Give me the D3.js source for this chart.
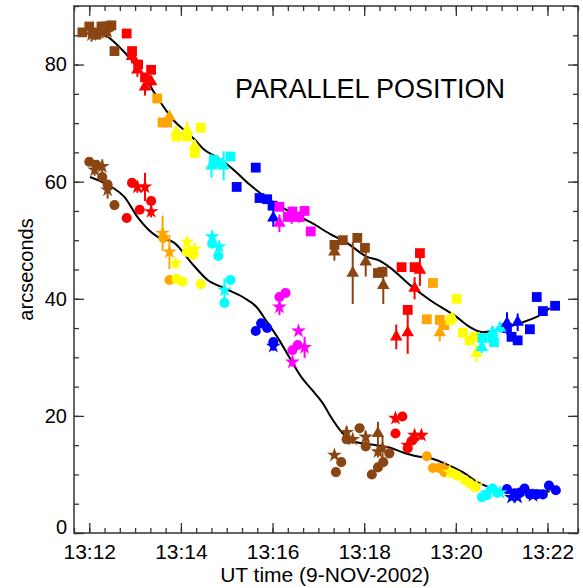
<!DOCTYPE html>
<html>
<head>
<meta charset="utf-8">
<script src="https://cdn.jsdelivr.net/npm/d3@7"></script>
<style>
  body { margin: 0; background: #fff; }
  text { font-family: "Liberation Sans", Arial, sans-serif; }
</style>
</head>
<body>
<svg id="chart" width="583" height="588"></svg>
<script>
// tiempos en segundos desde 13:12:00 UT, posiciones en arcsec
const colors = ['#8b4513', '#ff0000', '#ffa500', '#ffff00', '#00ffff', '#0000ff', '#ff00ff']

// curvas suavizadas [t, v]
const upper_line = [[13,85.5],[20,85.1],[33,83.8],[46,82.1],[68,78.8],[89,74.4],[111,70.4],[125,68.7],[138,67.2],[151,65.4],[164,64.4],[184,62.6],[210,59.5],[236,56.9],[262,54.9],[292,52.9],[315,51.1],[337,49.6],[363,47.2],[380,46.5],[393,45.4],[423,42.0],[446,39.8],[481,36.9],[498,35.2],[515,34.3],[528,34.5],[547,35.2],[568,36.0],[590,37.2],[603,38.4]]
const lower_line = [[1,60.8],[29,59.1],[46,57.4],[63,54.0],[89,50.6],[111,49.6],[134,46.1],[155,43.2],[177,41.8],[201,40.3],[219,38.6],[232,36.2],[249,32.9],[262,30.0],[279,26.4],[292,24.4],[305,22.3],[319,19.3],[332,17.0],[350,15.5],[376,15.0],[393,14.6],[410,13.8],[429,13.1],[446,12.8],[465,11.9],[489,10.4],[511,8.5],[524,7.8],[538,7.3],[555,7.3],[577,7.3],[603,7.1]]

// cuadrados de la fuente superior [t, v, color]
const upper_squares = [[-9,85.5,0],[0,86.5,0],[5,85.5,0],[9,85.1,0],[16,86.5,0],[22,86.5,0],[26,86.5,0],[29,86.7,0],[33,82.3,0],
  [49,85.3,1],[56,82.3,1],[64,80.0,1],[81,79.1,1],[73,77.8,1],
  [89,74.2,2],[96,70.1,2],[102,70.1,2],
  [114,67.7,3],[128,67.7,3],[138,64.9,3],[146,69.2,3],
  [163,63.7,4],[170,63.2,4],[185,64.3,4],
  [218,62.4,5],[193,59.1,5],[223,57.2,5],[233,57.0,5],[240,55.9,5],
  [249,55.7,6],[266,54.9,6],[282,55.0,6],[275,54.0,6],[260,54.0,6],[290,51.5,6],
  [321,49.2,0],[332,50.0,0],[351,50.4,0],[361,48.7,0],[378,44.4,0],[384,44.6,0],
  [409,45.4,1],[426,45.4,1],[433,47.8,1],[417,38.1,1],
  [450,42.7,2],[442,36.5,2],[459,36.4,2],[465,35.5,2],
  [481,40.0,3],[473,36.4,3],[489,34.2,3],[498,32.9,3],[505,33.5,3],
  [515,33.3,4],[528,33.3,4],[530,32.6,4],
  [547,35.0,5],[553,33.5,5],[561,32.9,5],[577,34.8,5],[586,40.3,5],[594,37.9,5],[610,38.8,5]]

// triángulos superiores [t, v, error, color]
const upper_triangles = [[56,81.4,1.2,1],[63,79.1,1.2,1],[73,76.2,1.5,1],[81,77.1,1.0,1],
  [105,71.1,0.8,2],
  [114,68.5,1.0,3],[128,68.8,1.5,3],[138,66.1,1.0,3],
  [160,62.7,2.0,4],[176,62.7,2.5,4],
  [241,53.8,1.5,5],
  [249,52.9,1.5,6],[265,53.8,1.0,6],[275,53.8,0.8,6],
  [321,48.0,1.5,0],[345,44.4,5.3,0],[362,46.3,2.5,0],[385,42.3,3.2,0],
  [433,44.9,2.7,1],[426,41.8,1.9,1],[402,33.5,2.1,1],[417,34.2,3.6,1],
  [459,34.2,1.5,2],
  [507,30.7,1.5,3],[475,36.7,1.0,3],
  [514,31.7,1.0,4],[528,34.3,1.0,4],[538,35.0,0.8,4],
  [547,35.8,1.9,5],[561,36.0,1.5,5]]

const upper_stars = [[3,85.1,1.2,0],[17,85.5,1.0,0],[24,85.6,1.0,0]]

// círculos de la fuente inferior [t, v, color]
const lower_circles = [[0,63.4,0],[9,62.9,0],[17,60.8,0],[24,59.5,0],[33,56.0,0],
  [56,59.8,1],[66,55.2,1],[49,53.8,1],[81,56.7,1],
  [97,50.4,2],[105,43.2,2],
  [114,43.4,3],[122,42.9,3],[146,42.5,3],[128,48.0,3],[136,47.5,3],
  [161,49.4,4],[169,47.3,4],[185,43.2,4],[177,39.3,4],
  [225,35.8,5],[233,35.0,5],[218,34.5,5],[241,32.6,5],
  [249,40.3,6],[257,41.0,6],[273,32.1,6],[266,31.2,6],
  [337,16.0,0],[354,17.9,0],[362,14.8,0],[393,13.6,0],[385,12.1,0],[378,11.2,0],[370,10.0,0],[330,12.1,0],[323,10.4,0],
  [410,19.9,1],[401,17.0,1],[417,14.5,1],[423,15.8,1],
  [442,13.1,2],[450,11.1,2],[458,11.1,2],[465,10.4,2],
  [475,10.2,3],[482,9.8,3],[492,9.0,3],[498,8.5,3],[505,7.8,3],
  [514,6.1,4],[520,6.4,4],[528,7.6,4],[534,6.9,4],
  [547,7.5,5],[557,6.8,5],[564,6.9,5],[570,7.6,5],[577,6.6,5],[586,6.6,5],[594,6.6,5],[602,8.1,5],[611,7.3,5]]

// estrellas inferiores [t, v, error, color]
const lower_stars = [[7,62.0,1.0,0],[17,62.6,1.2,0],[24,58.6,1.5,0],
  [63,59.1,1.0,1],[73,59.1,2.4,1],[81,54.9,1.0,1],
  [96,51.2,3.0,2],[105,48.0,2.9,2],
  [113,46.1,1.0,3],[128,49.7,1.0,3],[138,48.5,1.0,3],
  [161,50.6,1.0,4],[170,48.9,0.8,4],[177,41.5,2.0,4],
  [241,31.9,0.8,5],
  [249,38.6,1.4,6],[274,34.5,0.5,6],[282,31.7,1.8,6],[266,29.2,0.8,6],
  [337,17.2,1.0,0],[345,16.0,0.8,0],[362,16.4,1.0,0],[321,13.3,0.5,0],[378,13.9,1.0,0],[384,14.5,2.0,0],
  [401,19.6,0.8,1],[426,16.7,0.8,1],[435,16.7,0.8,1],[417,15.0,0.8,1],
  [465,11.1,0.5,2],
  [472,10.4,0.5,3],[507,8.1,0.5,3],
  [521,6.9,0.5,4],[538,6.9,0.5,4],
  [553,6.1,0.5,5],[561,6.1,0.5,5],[581,6.4,0.5,5]]

const lower_triangles = [[378,17.0,2.0,0]]

const x_major = [0, 120, 240, 360, 480, 600]
const y_major = [0, 20, 40, 60, 80]

// Escalas
const x = d3.scaleLinear().domain([-20, 640]).range([74, 578])
const y = d3.scaleLinear().domain([0, 90]).range([533, 6])

const svg = d3.select('#chart')
const base = Date.UTC(2002, 10, 9, 13, 12, 0)
const fmt = d3.utcFormat('%H:%M')

// Ejes (ticks hacia adentro en los cuatro lados)
const x_minor = d3.range(-20, 641, 20)
const y_minor = d3.range(0, 91, 5)
const axis_color = '#333'

const style_axis = g => {
  g.select('.domain').remove()
  g.selectAll('line').attr('stroke', axis_color).attr('stroke-width', 1.3)
  g.selectAll('text').attr('fill', '#000').style('font-family', '"Liberation Sans", Arial, sans-serif')
}

svg.append('g').attr('transform', `translate(0,${y(0)})`)
  .call(d3.axisBottom(x).tickValues(x_minor).tickSize(-5).tickFormat(''))
  .call(style_axis)
svg.append('g').attr('transform', `translate(0,${y(0)})`)
  .call(d3.axisBottom(x).tickValues(x_major).tickSize(-10).tickPadding(11)
    .tickFormat(d => fmt(new Date(base + d * 1000))))
  .call(style_axis)
  .selectAll('text').attr('font-size', 21)
svg.append('g').attr('transform', `translate(0,${y(90)})`)
  .call(d3.axisTop(x).tickValues(x_minor).tickSize(-5).tickFormat(''))
  .call(style_axis)
svg.append('g').attr('transform', `translate(0,${y(90)})`)
  .call(d3.axisTop(x).tickValues(x_major).tickSize(-10).tickFormat(''))
  .call(style_axis)

svg.append('g').attr('transform', `translate(${x(-20)},0)`)
  .call(d3.axisLeft(y).tickValues(y_minor).tickSize(-5).tickFormat(''))
  .call(style_axis)
svg.append('g').attr('transform', `translate(${x(-20)},0)`)
  .call(d3.axisLeft(y).tickValues(y_major).tickSize(-10).tickPadding(7))
  .call(style_axis)
  .selectAll('text').attr('font-size', 20)
  .attr('dy', d => d === 0 ? '0.0em' : '0.32em')
svg.append('g').attr('transform', `translate(${x(640)},0)`)
  .call(d3.axisRight(y).tickValues(y_minor).tickSize(-5).tickFormat(''))
  .call(style_axis)
svg.append('g').attr('transform', `translate(${x(640)},0)`)
  .call(d3.axisRight(y).tickValues(y_major).tickSize(-10).tickFormat(''))
  .call(style_axis)

// Marco
svg.append('rect')
  .attr('x', x(-20)).attr('y', y(90))
  .attr('width', x(640) - x(-20)).attr('height', y(0) - y(90))
  .attr('fill', 'none').attr('stroke', axis_color).attr('stroke-width', 1.5)

// Curvas
const line = d3.line().x(d => x(d[0])).y(d => y(d[1])).curve(d3.curveMonotoneX)
;[upper_line, lower_line].forEach(data => {
  svg.append('path').datum(data)
    .attr('d', line)
    .attr('fill', 'none').attr('stroke', '#000').attr('stroke-width', 2)
})

// Barras de error
const errors = [...upper_triangles, ...upper_stars, ...lower_stars, ...lower_triangles]
svg.append('g').selectAll('line')
  .data(errors).enter().append('line')
  .attr('x1', d => x(d[0])).attr('x2', d => x(d[0]))
  .attr('y1', d => y(d[1] - d[2])).attr('y2', d => y(d[1] + d[2]))
  .attr('stroke', d => colors[d[3]]).attr('stroke-width', 2)

// Símbolos
const draw_symbols = (data, type, size, ci) => {
  svg.append('g').selectAll('path')
    .data(data).enter().append('path')
    .attr('transform', d => `translate(${x(d[0])},${y(d[1])})`)
    .attr('d', d3.symbol().type(type).size(size))
    .attr('fill', d => colors[d[ci]])
}
draw_symbols(upper_squares, d3.symbolSquare, 96, 2)
draw_symbols(upper_triangles, d3.symbolTriangle, 68, 3)
draw_symbols(upper_stars, d3.symbolStar, 68, 3)
draw_symbols(lower_circles, d3.symbolCircle, 80, 2)
draw_symbols(lower_stars, d3.symbolStar, 68, 3)
draw_symbols(lower_triangles, d3.symbolTriangle, 68, 3)

// Textos
svg.append('text')
  .attr('x', 235).attr('y', 98)
  .attr('font-size', 27)
  .text('PARALLEL POSITION')

svg.append('text')
  .attr('x', 325).attr('y', 582)
  .attr('text-anchor', 'middle')
  .attr('font-size', 21)
  .text('UT time (9-NOV-2002)')

svg.append('text')
  .attr('transform', `translate(33,${(y(0) + y(90)) / 2}) rotate(-90)`)
  .attr('text-anchor', 'middle')
  .attr('font-size', 20)
  .text('arcseconds')
</script>
</body>
</html>
